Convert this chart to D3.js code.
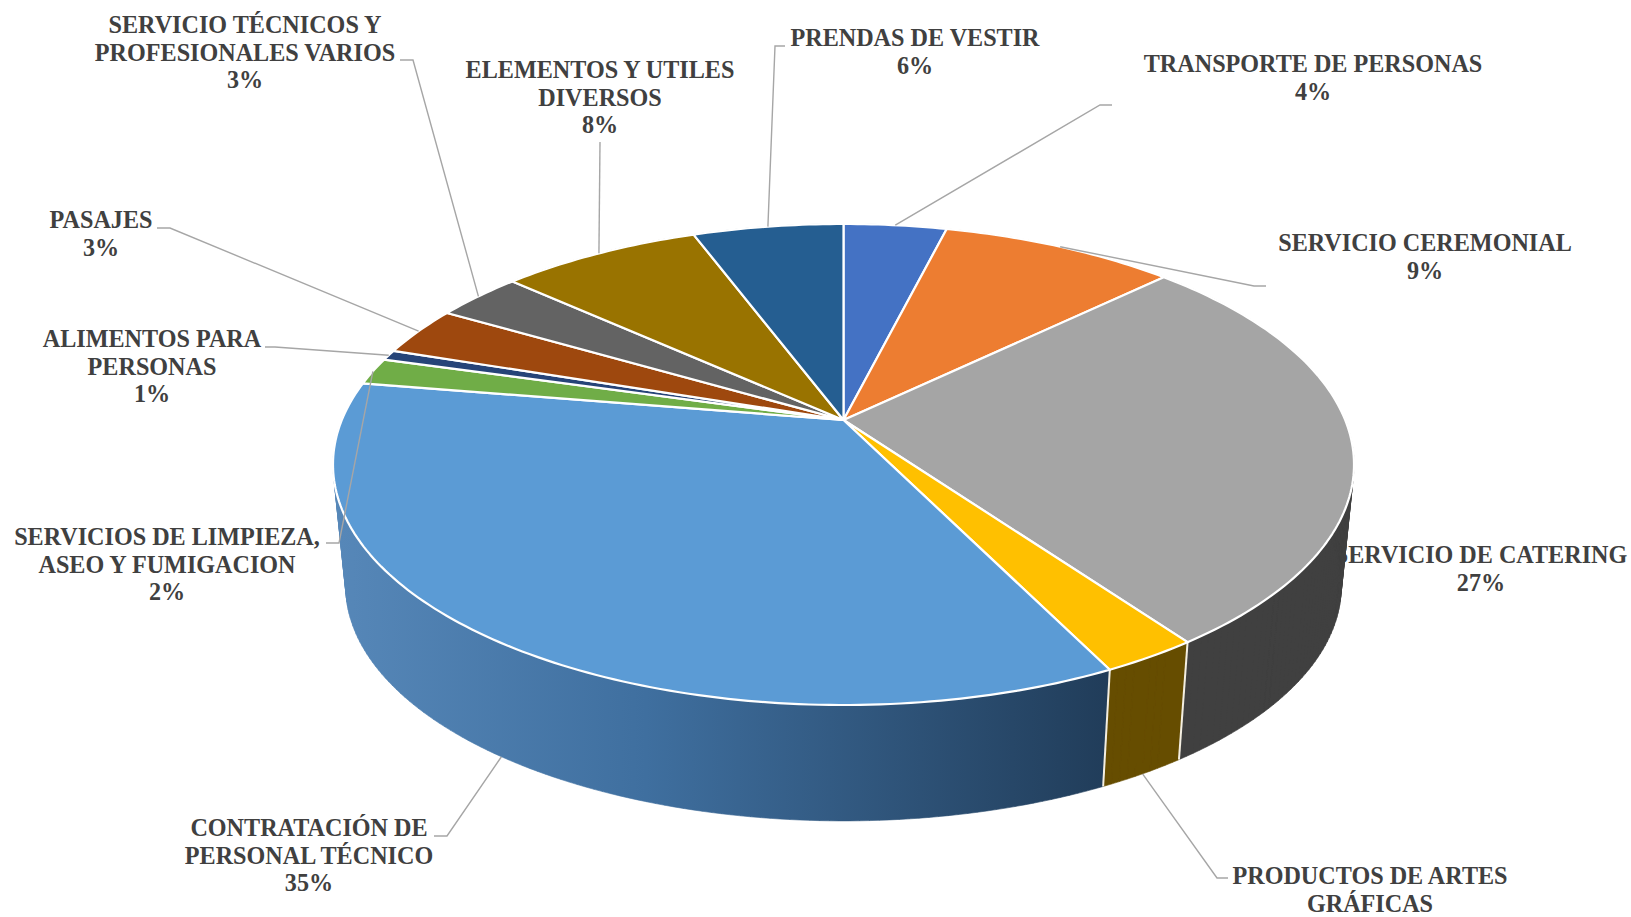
<!DOCTYPE html>
<html>
<head>
<meta charset="utf-8">
<script src="https://cdn.jsdelivr.net/npm/d3@7"></script>
<style>
  html, body { margin: 0; padding: 0; background: #fff; overflow: hidden; }
  text { font-family: "Liberation Serif", serif; font-weight: bold; font-size: 24.15px; fill: #404040; text-anchor: middle; }
</style>
</head>
<body>
<svg id="chart" width="1631" height="917"></svg>
<script>
// slice names and shares
var categories = ["TRANSPORTE DE PERSONAS", "SERVICIO CEREMONIAL", "SERVICIO DE CATERING", "PRODUCTOS DE ARTES GRÁFICAS",
    "CONTRATACIÓN DE PERSONAL TÉCNICO", "SERVICIOS DE LIMPIEZA, ASEO Y FUMIGACION", "ALIMENTOS PARA PERSONAS",
    "PASAJES", "SERVICIO TÉCNICOS Y PROFESIONALES VARIOS", "ELEMENTOS Y UTILES DIVERSOS", "PRENDAS DE VESTIR"]
var shares = [3.9, 8.9, 27.3, 2.6, 34.9, 1.8, 0.7, 3.3, 3.3, 7.6, 5.7]
var topColors = ["#4472c4", "#ed7d31", "#a5a5a5", "#ffc000", "#5b9bd5", "#70ad47", "#264478", "#9e480e", "#636363", "#997300", "#255e91"]
var sideColors = ["#2a4476", "#8e4b1d", "#404040", "#664d00", "url(#sideBlue)", "#43682b", "#172948", "#5f2b08", "#3b3b3b", "#5c4500", "#163855"]

// how each label breaks over lines
var labelLines = [
    ["TRANSPORTE DE PERSONAS"],
    ["SERVICIO CEREMONIAL"],
    ["SERVICIO DE CATERING"],
    ["PRODUCTOS DE ARTES", "GRÁFICAS"],
    ["CONTRATACIÓN DE", "PERSONAL TÉCNICO"],
    ["SERVICIOS DE LIMPIEZA,", "ASEO Y FUMIGACION"],
    ["ALIMENTOS PARA", "PERSONAS"],
    ["PASAJES"],
    ["SERVICIO TÉCNICOS Y", "PROFESIONALES VARIOS"],
    ["ELEMENTOS Y UTILES", "DIVERSOS"],
    ["PRENDAS DE VESTIR"]
]

// label layout: centre x, first baseline
var labelX = [1313, 1425, 1481, 1370, 309, 167, 152, 101, 245, 600, 915]
var labelY = [72, 251, 563, 884, 836, 545, 347, 228, 33, 78, 46]
// leader line layout: points after the slice anchor (none for catering)
var leaderPts = [
    [[1100, 105], [1112, 105]],
    [[1254, 286], [1266, 286]],
    [],
    [[1217, 878], [1228, 878]],
    [[447, 836], [434, 836]],
    [[339, 543], [326, 543]],
    [[275, 347], [265, 347]],
    [[170, 228], [157, 228]],
    [[413, 60], [400, 60]],
    [[600, 142]],
    [[775, 46], [785, 46]]
]

var lineHeight = 27.5

// perspective of the tilted disc
var cx = 843.5, cy = 420
var radX = 501.7, radY = 232.3, persp = 0.185
var depth = 123, bottomScale = 0.975

function project(angle, level) {
    var X = Math.sin(angle), Y = -Math.cos(angle)
    var w = 1 - persp * Y
    var s = level == 1 ? bottomScale : 1
    var drop = level == 1 ? depth : 0
    return [cx + s * radX * X / w, cy + drop + s * radY * Y / w]
}

function arcPoints(a0, a1, level) {
    var n = Math.max(2, Math.ceil((a1 - a0) * 60))
    return d3.range(n + 1).map(function(i) {
        return project(a0 + (a1 - a0) * i / n, level)
    })
}

var svg = d3.select("#chart")
var line = d3.line()

var pie = d3.pie().sort(null).value(function(d) { return d })
var slices = pie(shares)
var topColor = d3.scaleOrdinal().domain(d3.range(shares.length)).range(topColors)
var sideColor = d3.scaleOrdinal().domain(d3.range(shares.length)).range(sideColors)

// gradient on the big blue side
var grad = svg.append("defs").append("linearGradient")
    .attr("id", "sideBlue")
    .attr("gradientUnits", "userSpaceOnUse")
    .attr("x1", 340).attr("y1", 0).attr("x2", 1105).attr("y2", 0)
grad.append("stop").attr("offset", 0).attr("stop-color", "#5687b8")
grad.append("stop").attr("offset", 0.4).attr("stop-color", "#3f6f9f")
grad.append("stop").attr("offset", 1).attr("stop-color", "#213d5a")

function drawLabel(i) {
    var lines = labelLines[i].slice()
    // the percent of the artes graficas label falls off the picture
    if (i != 3) lines.push(Math.round(shares[i]) + "%")
    var t = svg.append("text").attr("x", labelX[i]).attr("y", labelY[i])
    lines.forEach(function(s, k) {
        t.append("tspan").attr("x", labelX[i]).attr("y", labelY[i] + k * lineHeight).text(s)
    })
}

// catering label sits behind the pie
drawLabel(2)

// side walls, swept as small quads so the outline follows the hull of both rims
svg.append("g").selectAll("path").data(slices).enter().append("path")
    .attr("d", function(d) {
        var upper = arcPoints(d.startAngle, d.endAngle, 0)
        var lower = arcPoints(d.startAngle, d.endAngle, 1)
        var path = ""
        for (var i = 0; i < upper.length - 1; i++) {
            var quad = [upper[i], upper[i + 1], lower[i + 1], lower[i]]
            // same winding for all quads, or the overlaps cancel out
            if (d3.polygonArea(quad) < 0) quad.reverse()
            path += line(quad) + "Z"
        }
        return path
    })
    .attr("fill", function(d) { return sideColor(d.index) })
    .attr("stroke", function(d) { return sideColor(d.index) })
    .attr("stroke-width", 0.6)

// seams on the visible part of the wall
var seams = slices.filter(function(d) {
    return d.endAngle > Math.PI / 2 && d.endAngle < 1.4 * Math.PI
})
svg.append("g").selectAll("path").data(seams).enter().append("path")
    .attr("d", function(d) { return line([project(d.endAngle, 0), project(d.endAngle, 1)]) })
    .attr("stroke", "#f4efe2").attr("stroke-width", 2).attr("fill", "none")

// top of the disc
svg.append("g").selectAll("path").data(slices).enter().append("path")
    .attr("d", function(d) {
        return line([[cx, cy]].concat(arcPoints(d.startAngle, d.endAngle, 0))) + "Z"
    })
    .attr("fill", function(d) { return topColor(d.index) })
    .attr("stroke", "#fff").attr("stroke-width", 2.2).attr("stroke-linejoin", "round")

// leader lines, from the slice middle on the top rim (bottom rim for the front slices)
svg.append("g").selectAll("path").data(slices.filter(function(d) { return leaderPts[d.index].length > 0 })).enter().append("path")
    .attr("d", function(d) {
        var mid = (d.startAngle + d.endAngle) / 2
        var front = mid > Math.PI / 2 && mid < 1.4 * Math.PI
        return line([project(mid, front ? 1 : 0)].concat(leaderPts[d.index]))
    })
    .attr("fill", "none").attr("stroke", "#a6a6a6").attr("stroke-width", 1.4)

d3.range(shares.length).forEach(function(i) {
    if (i != 2) drawLabel(i)
})
</script>
</body>
</html>
